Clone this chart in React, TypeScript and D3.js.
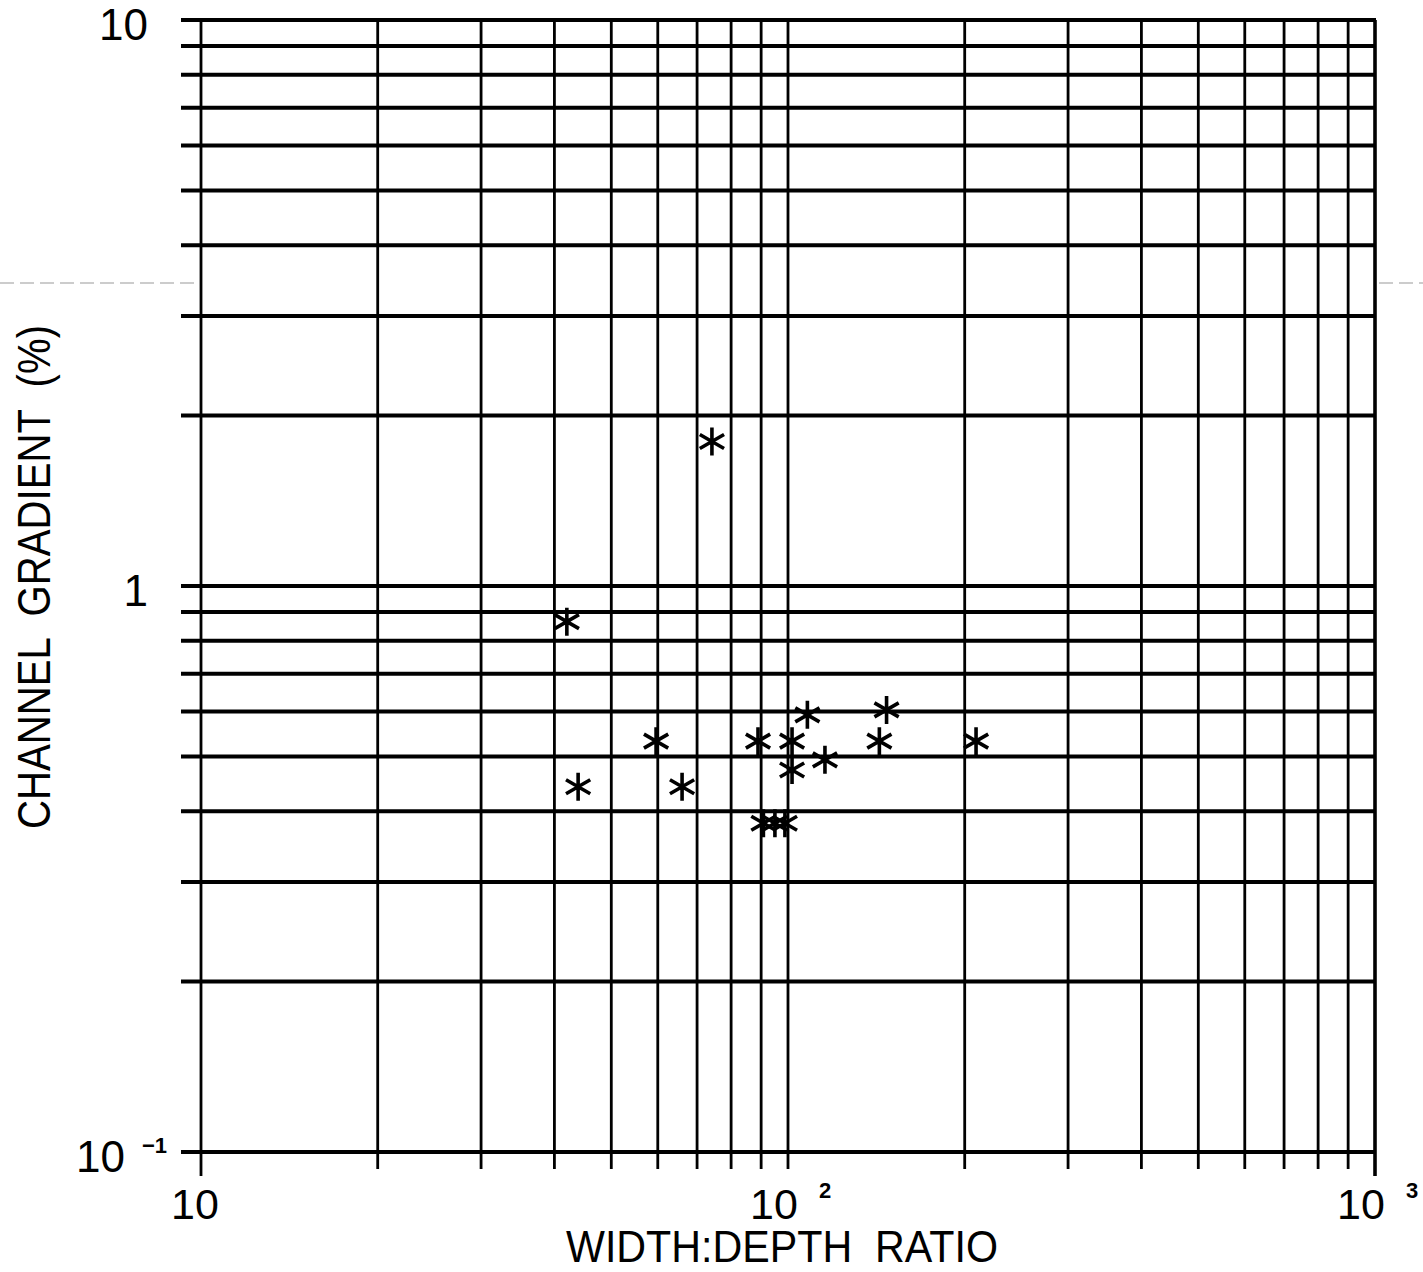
import React from "react";
import * as d3 from "d3";

// width:depth ratio and channel gradient (%)
const widthDepth = [74.2, 42.0, 43.9, 59.6, 66.0, 88.9, 101.6, 107.9, 101.6, 115.6, 143.1, 147.2, 209.1, 90.8, 95.0, 98.8];
const gradient = [1.8, 0.865, 0.442, 0.532, 0.442, 0.532, 0.532, 0.592, 0.473, 0.493, 0.532, 0.604, 0.532, 0.381, 0.381, 0.381];

// tick labels: value, base text, exponent text
const xTickValues = [10, 100, 1000];
const xTickBase = ["10", "10", "10"];
const xTickExp = ["", "2", "3"];
const yTickValues = [10, 1, 0.1];
const yTickBase = ["10", "1", "10"];
const yTickExp = ["", "", "−1"];

const W = 1423;
const H = 1272;
const left = 201;
const right = 1375;
const top = 20;
const bottom = 1152;

const font = "'Liberation Sans', Arial, sans-serif";

const App = () => {
  const x = d3.scaleLog().domain([10, 1000]).range([left, right]);
  const y = d3.scaleLog().domain([0.1, 10]).range([bottom, top]);

  const star = d3.symbol().type(d3.symbolAsterisk).size(554)();
  const points = widthDepth.map((d, i) => ({ wd: d, g: gradient[i] }));

  return (
    <div style={{ position: "absolute", left: 0, top: 0 }}>
      <svg width={W} height={H} style={{ display: "block", background: "#fff" }}>
        {/* scan artefact: faint dashed line */}
        <line x1={0} x2={left - 4} y1={283} y2={283} stroke="#999" strokeWidth={1} strokeDasharray="14 6" />
        <line x1={right + 4} x2={W} y1={283} y2={283} stroke="#999" strokeWidth={1} strokeDasharray="14 6" />

        {/* vertical grid lines with ticks below the axis */}
        {x.ticks().map((t) => (
          <line
            key={"v" + t}
            x1={x(t)}
            x2={x(t)}
            y1={top}
            y2={bottom + (t === 10 || t === 1000 ? 24 : 17)}
            stroke="#000"
            strokeWidth={t === 1000 ? 3.6 : 2.8}
          />
        ))}

        {/* horizontal grid lines, heavier, running out left of the axis */}
        {y.ticks().map((t) => (
          <line
            key={"h" + t}
            x1={left - 20}
            x2={right + 1}
            y1={y(t)}
            y2={y(t)}
            stroke="#000"
            strokeWidth={4}
          />
        ))}

        {/* y tick labels */}
        {yTickValues.map((v, i) => (
          <g key={"yl" + v}>
            <text
              x={yTickExp[i] ? 125 : 148}
              y={y(v) + 20}
              textAnchor="end"
              fontFamily={font}
              fontSize={44}
            >
              {yTickBase[i]}
            </text>
            {yTickExp[i] && (
              <text x={142} y={y(v) + 1} fontFamily={font} fontSize={22} fontWeight="bold">
                {yTickExp[i]}
              </text>
            )}
          </g>
        ))}

        {/* x tick labels */}
        {xTickValues.map((v, i) => (
          <g key={"xl" + v}>
            <text
              x={x(v) - (xTickExp[i] ? 14 : 6)}
              y={1219}
              textAnchor="middle"
              fontFamily={font}
              fontSize={43}
            >
              {xTickBase[i]}
            </text>
            {xTickExp[i] && (
              <text x={x(v) + 31} y={1198} fontFamily={font} fontSize={22} fontWeight="bold">
                {xTickExp[i]}
              </text>
            )}
          </g>
        ))}

        {/* axis titles */}
        <text
          x={566}
          y={1262}
          fontFamily={font}
          fontSize={44}
          textLength={432}
          lengthAdjust="spacingAndGlyphs"
          style={{ whiteSpace: "pre" }}
        >
          {"WIDTH:DEPTH  RATIO"}
        </text>
        <text
          transform="translate(50, 829) rotate(-90)"
          fontFamily={font}
          fontSize={47}
          textLength={504}
          lengthAdjust="spacingAndGlyphs"
          style={{ whiteSpace: "pre" }}
        >
          {"CHANNEL  GRADIENT  (%)"}
        </text>

        {/* data points */}
        {points.map((p, i) => (
          <path
            key={"p" + i}
            d={star || ""}
            transform={`translate(${x(p.wd)}, ${y(p.g)})`}
            fill="none"
            stroke="#000"
            strokeWidth={3.6}
          />
        ))}
      </svg>
    </div>
  );
};

export default App;
